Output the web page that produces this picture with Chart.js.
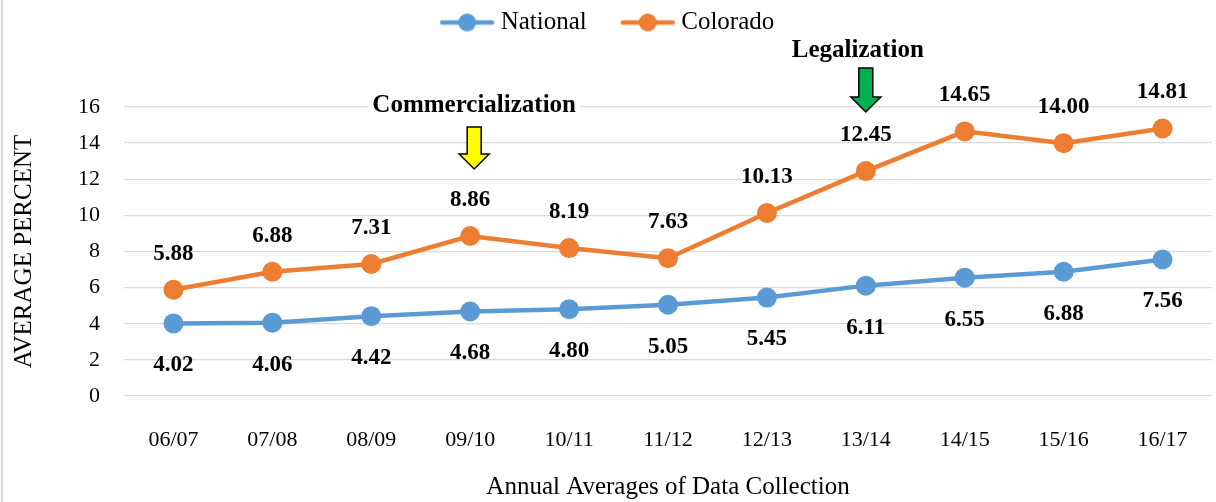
<!DOCTYPE html>
<html>
<head>
<meta charset="utf-8">
<script src="https://cdn.jsdelivr.net/npm/chart.js@4.4.0/dist/chart.umd.min.js"></script>
<style>
  html, body { margin: 0; padding: 0; background: #fff; overflow: hidden; }
  #wrap { width: 1216px; height: 502px; overflow: hidden; }
</style>
</head>
<body>
<div id="wrap"><canvas id="trendChart" width="1222" height="502"></canvas></div>
<script>
const years = ['06/07', '07/08', '08/09', '09/10', '10/11', '11/12', '12/13', '13/14', '14/15', '15/16', '16/17'];
const national = [4.02, 4.06, 4.42, 4.68, 4.80, 5.05, 5.45, 6.11, 6.55, 6.88, 7.56];
const colorado = [5.88, 6.88, 7.31, 8.86, 8.19, 7.63, 10.13, 12.45, 14.65, 14.00, 14.81];
const yTicks = [0, 2, 4, 6, 8, 10, 12, 14, 16];
const events = [
    { label: 'Commercialization', year: '09/10' },
    { label: 'Legalization', year: '13/14' }
];

const serif = '"Liberation Serif", "Times New Roman", serif';
const blue = '#5b9bd5';
const orange = '#ed7d31';

// little line-with-dot marker for the legend
function legendMarker(color) {
    const c = document.createElement('canvas');
    c.width = 56;
    c.height = 22;
    const g = c.getContext('2d');
    g.strokeStyle = color;
    g.lineWidth = 4.5;
    g.lineCap = 'round';
    g.beginPath();
    g.moveTo(3, 11);
    g.lineTo(53, 11);
    g.stroke();
    g.fillStyle = color;
    g.beginPath();
    g.arc(28, 11, 9, 0, Math.PI * 2);
    g.fill();
    return c;
}
const markers = [legendMarker(blue), legendMarker(orange)];

const frame = {
    id: 'frame',
    beforeInit(chart) {
        const fit = chart.legend.fit;
        chart.legend.fit = function () {
            fit.bind(chart.legend)();
            this.height = 137;
        };
    },
    beforeDraw(chart) {
        const ctx = chart.ctx;
        ctx.save();
        ctx.fillStyle = '#fff';
        ctx.fillRect(0, 0, chart.width, chart.height);
        ctx.fillStyle = '#d9d9d9';
        ctx.fillRect(1, 0, 2, chart.height);
        ctx.restore();
    }
};

const valueLabels = {
    id: 'valueLabels',
    afterDatasetsDraw(chart) {
        const ctx = chart.ctx;
        ctx.save();
        ctx.font = 'bold 23px ' + serif;
        ctx.fillStyle = '#000';
        ctx.textAlign = 'center';
        ctx.textBaseline = 'middle';
        chart.data.datasets.forEach((ds, i) => {
            const meta = chart.getDatasetMeta(i);
            meta.data.forEach((pt, j) => {
                const dy = ds.labelSide === 'above' ? -36 : 42;
                ctx.fillText(ds.data[j].toFixed(2), pt.x, pt.y + dy);
            });
        });
        ctx.restore();
    }
};

const eventArrows = {
    id: 'eventArrows',
    afterDraw(chart) {
        const ctx = chart.ctx;
        const x = chart.scales.x;
        // text y, arrow top, head start, tip, colour, x shift
        const look = [
            { textY: 106, top: 127, head: 154, tip: 169, fill: '#ffff00', dx: 4, tdx: 0 },
            { textY: 51, top: 68, head: 97, tip: 112, fill: '#00b050', dx: 0, tdx: -8 }
        ];
        ctx.save();
        events.forEach((ev, i) => {
            const s = look[i];
            const cx = x.getPixelForValue(years.indexOf(ev.year)) + s.dx;
            ctx.font = 'bold 25px ' + serif;
            const w = ctx.measureText(ev.label).width;
            ctx.fillStyle = '#fff';
            ctx.fillRect(cx + s.tdx - w / 2 - 4, s.textY - 13, w + 8, 26);
            ctx.fillStyle = '#000';
            ctx.textAlign = 'center';
            ctx.textBaseline = 'middle';
            ctx.fillText(ev.label, cx + s.tdx, s.textY);

            ctx.beginPath();
            ctx.moveTo(cx - 7, s.top);
            ctx.lineTo(cx + 7, s.top);
            ctx.lineTo(cx + 7, s.head);
            ctx.lineTo(cx + 15, s.head);
            ctx.lineTo(cx, s.tip);
            ctx.lineTo(cx - 15, s.head);
            ctx.lineTo(cx - 7, s.head);
            ctx.closePath();
            ctx.fillStyle = s.fill;
            ctx.fill();
            ctx.lineWidth = 1.5;
            ctx.strokeStyle = '#000';
            ctx.stroke();
        });
        ctx.restore();
    }
};

const ctx = document.getElementById('trendChart').getContext('2d');
const trendChart = new Chart(ctx, {
    type: 'line',
    data: {
        labels: years,
        datasets: [
            {
                label: 'National',
                data: national,
                borderColor: blue,
                backgroundColor: blue,
                borderWidth: 4.5,
                pointRadius: 10,
                pointHoverRadius: 10,
                pointBorderWidth: 0,
                labelSide: 'below'
            },
            {
                label: 'Colorado',
                data: colorado,
                borderColor: orange,
                backgroundColor: orange,
                borderWidth: 4.5,
                pointRadius: 10,
                pointHoverRadius: 10,
                pointBorderWidth: 0,
                labelSide: 'above'
            }
        ]
    },
    options: {
        responsive: false,
        animation: false,
        layout: {
            padding: { top: -30, right: 1.6, bottom: 0, left: 0 }
        },
        plugins: {
            legend: {
                position: 'top',
                labels: {
                    usePointStyle: true,
                    pointStyleWidth: 42,
                    padding: 40,
                    color: '#000',
                    font: { family: serif, size: 25 },
                    generateLabels(chart) {
                        return chart.data.datasets.map((ds, i) => ({
                            text: ds.label,
                            pointStyle: markers[i],
                            fillStyle: ds.borderColor,
                            strokeStyle: ds.borderColor,
                            lineWidth: 0,
                            fontColor: '#000',
                            datasetIndex: i
                        }));
                    }
                }
            },
            tooltip: { enabled: false }
        },
        scales: {
            x: {
                offset: true,
                grid: { display: false },
                border: { display: false },
                ticks: {
                    color: '#000',
                    padding: 23,
                    font: { family: serif, size: 22 }
                },
                title: {
                    display: true,
                    text: 'Annual Averages of Data Collection',
                    color: '#000',
                    font: { family: serif, size: 25 },
                    padding: { top: 3, bottom: 0 }
                },
                afterFit(scale) { scale.height = 106; }
            },
            y: {
                min: 0,
                max: 16,
                afterBuildTicks(scale) { scale.ticks = yTicks.map(v => ({ value: v })); },
                grid: { color: '#d9d9d9', lineWidth: 1.3, drawTicks: false },
                border: { display: false },
                ticks: {
                    color: '#000',
                    padding: 24,
                    font: { family: serif, size: 22 }
                },
                title: {
                    display: true,
                    text: 'AVERAGE PERCENT',
                    color: '#000',
                    font: { family: serif, size: 25 },
                    padding: { top: 9, bottom: 0 }
                },
                afterFit(scale) { scale.width = 124; }
            }
        }
    },
    plugins: [frame, valueLabels, eventArrows]
});
</script>
</body>
</html>
